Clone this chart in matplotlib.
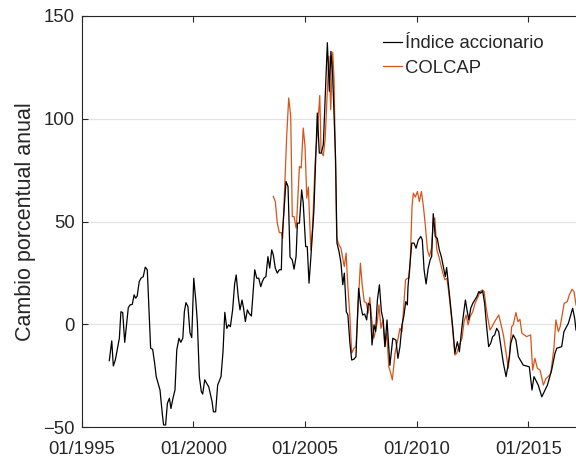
import matplotlib
matplotlib.use("Agg")
import matplotlib.pyplot as plt

# ---- data (decimal year, annual % change) ----
indice_t = [1996.24, 1996.35, 1996.42, 1996.51, 1996.69, 1996.76, 1996.84, 1996.93,
            1997.09, 1997.17, 1997.27, 1997.35, 1997.42, 1997.49, 1997.58, 1997.66,
            1997.76, 1997.85, 1997.94, 1998.09, 1998.18, 1998.27, 1998.34, 1998.51,
            1998.61, 1998.67, 1998.76, 1998.84, 1998.93, 1999.00, 1999.09, 1999.18,
            1999.26, 1999.36, 1999.44, 1999.53, 1999.60, 1999.67, 1999.76, 1999.85,
            1999.93, 2000.02, 2000.11, 2000.18, 2000.27, 2000.36, 2000.42, 2000.51,
            2000.60, 2000.69, 2000.84, 2000.90, 2001.00, 2001.09, 2001.24, 2001.33,
            2001.41, 2001.50, 2001.58, 2001.66, 2001.76, 2001.85, 2001.92, 2002.01,
            2002.09, 2002.18, 2002.25, 2002.33, 2002.42, 2002.49, 2002.60, 2002.75,
            2002.84, 2002.93, 2003.02, 2003.09, 2003.16, 2003.25, 2003.34, 2003.42,
            2003.51, 2003.58, 2003.67, 2003.76, 2003.85, 2003.94, 2003.98, 2004.15,
            2004.24, 2004.33, 2004.43, 2004.51, 2004.60, 2004.66, 2004.75, 2004.85,
            2004.92, 2005.03, 2005.10, 2005.18, 2005.26, 2005.40, 2005.55, 2005.64,
            2005.73, 2005.82, 2006.00, 2006.09, 2006.16, 2006.24, 2006.37, 2006.43,
            2006.52, 2006.61, 2006.69, 2006.76, 2006.85, 2006.92, 2007.01, 2007.09,
            2007.19, 2007.28, 2007.40, 2007.49, 2007.58, 2007.67, 2007.76, 2007.83,
            2007.92, 2008.00, 2008.09, 2008.16, 2008.24, 2008.33, 2008.42, 2008.50,
            2008.58, 2008.67, 2008.80, 2008.93, 2009.07, 2009.16, 2009.25, 2009.34,
            2009.42, 2009.51, 2009.58, 2009.61, 2009.70, 2009.78, 2009.88, 2009.97,
            2010.07, 2010.18, 2010.25, 2010.33, 2010.42, 2010.51, 2010.60, 2010.67,
            2010.74, 2010.83, 2010.92, 2011.01, 2011.10, 2011.19, 2011.28, 2011.34,
            2011.43, 2011.49, 2011.61, 2011.71, 2011.82, 2011.91, 2012.01, 2012.09,
            2012.18, 2012.25, 2012.33, 2012.42, 2012.51, 2012.60, 2012.69, 2012.78,
            2012.86, 2012.95, 2013.04, 2013.13, 2013.22, 2013.31, 2013.40, 2013.49,
            2013.58, 2013.67, 2013.76, 2013.88, 2014.00, 2014.15, 2014.21, 2014.32,
            2014.44, 2014.55, 2014.77, 2015.04, 2015.16, 2015.25, 2015.44, 2015.60,
            2015.85, 2016.04, 2016.19, 2016.27, 2016.49, 2016.59, 2016.79, 2016.98,
            2017.07, 2017.13]
indice_v = [-17.7, -8.1, -20.3, -17.4, -6.8, 6.1, 5.7, -8.8,
            8.1, 9.4, 9.7, 14.3, 12.7, 13.8, 20.8, 22.4,
            23.2, 27.8, 26.5, -11.7, -12.2, -19.0, -25.5, -32.0,
            -43.4, -49.0, -49.0, -38.5, -36.0, -41.0, -36.0, -32.0,
            -12.5, -6.8, -8.8, -6.8, 6.1, 10.5, 8.6, -4.1,
            -6.5, 22.4, 11.8, 1.3, -25.5, -32.8, -34.0, -27.0,
            -28.8, -30.4, -37.7, -42.6, -42.6, -29.6, -25.5, -13.3,
            5.8, -2.0, -0.3, -1.2, 7.0, 19.6, 24.0, 13.5,
            7.0, 11.8, 7.8, 1.3, 7.0, 5.4, 4.0, 26.5,
            22.4, 22.4, 18.3, 20.8, 22.4, 23.2, 32.9, 27.3,
            36.2, 33.8, 27.3, 24.9, 26.5, 26.5, 42.7, 69.5,
            67.0, 32.7, 31.3, 26.8, 33.0, 49.2, 49.2, 65.4,
            59.0, 37.8, 37.8, 20.0, 32.2, 55.7, 102.8, 83.3,
            83.3, 87.4, 137.0, 113.4, 132.8, 120.7, 80.0, 39.5,
            35.5, 29.7, 19.2, 24.9, 6.1, 4.5, -9.3, -17.4,
            -17.0, -15.8, 17.5, 9.4, 4.5, 5.0, 2.1, 10.2,
            9.4, -10.1, -0.3, -3.6, 11.8, 19.2, 6.1, 2.1,
            -10.9, 2.1, -20.0, -6.8, -7.7, -16.6, -10.9, -0.3,
            3.7, 11.0, 9.4, 18.3, 29.7, 39.5, 39.5, 37.0,
            41.0, 42.7, 41.1, 26.5, 19.6, 27.0, 31.3, 33.0,
            53.8, 42.7, 41.8, 36.2, 33.0, 28.1, 23.2, 27.6,
            18.3, 11.8, -1.2, -14.1, -8.5, -13.4, -2.8, 4.5,
            11.8, 7.0, 2.1, 7.8, 10.2, 11.8, 13.4, 15.9,
            15.1, 16.2, 10.2, -1.2, -10.9, -9.3, -6.0, -5.2,
            -2.0, -3.6, -10.1, -19.0, -25.5, -15.8, -9.3, -5.2,
            -7.7, -15.8, -19.9, -20.7, -32.0, -25.5, -29.6, -35.3,
            -29.6, -22.3, -14.1, -11.7, -10.9, -3.6, 0.5, 7.8,
            2.9, -2.8]

colcap_t = [2003.58, 2003.67, 2003.76, 2003.85, 2003.94, 2004.00, 2004.09, 2004.18,
            2004.27, 2004.36, 2004.43, 2004.51, 2004.60, 2004.63, 2004.75, 2004.83,
            2004.92, 2005.00, 2005.08, 2005.15, 2005.26, 2005.34, 2005.45, 2005.57,
            2005.66, 2005.72, 2005.82, 2005.90, 2006.07, 2006.15, 2006.24, 2006.30,
            2006.42, 2006.52, 2006.61, 2006.69, 2006.76, 2006.84, 2006.92, 2007.01,
            2007.09, 2007.19, 2007.28, 2007.40, 2007.48, 2007.56, 2007.65, 2007.74,
            2007.83, 2007.90, 2007.99, 2008.08, 2008.15, 2008.24, 2008.31, 2008.40,
            2008.49, 2008.57, 2008.66, 2008.75, 2008.84, 2008.91, 2009.03, 2009.15,
            2009.25, 2009.34, 2009.43, 2009.50, 2009.59, 2009.66, 2009.71, 2009.79,
            2009.85, 2009.94, 2010.03, 2010.12, 2010.21, 2010.30, 2010.39, 2010.48,
            2010.57, 2010.66, 2010.75, 2010.81, 2010.90, 2010.99, 2011.08, 2011.17,
            2011.26, 2011.35, 2011.43, 2011.52, 2011.61, 2011.71, 2011.79, 2011.94,
            2012.03, 2012.12, 2012.21, 2012.30, 2012.39, 2012.51, 2012.61, 2012.72,
            2012.84, 2012.93, 2013.02, 2013.10, 2013.21, 2013.28, 2013.37, 2013.49,
            2013.58, 2013.67, 2013.76, 2013.88, 2014.00, 2014.10, 2014.25, 2014.32,
            2014.44, 2014.53, 2014.62, 2014.71, 2014.92, 2015.10, 2015.19, 2015.29,
            2015.40, 2015.52, 2015.67, 2015.79, 2015.89, 2016.00, 2016.14, 2016.23,
            2016.34, 2016.42, 2016.60, 2016.74, 2016.83, 2016.95, 2017.04, 2017.13]
colcap_v = [62.2, 59.7, 49.2, 44.6, 44.6, 41.9, 67.0, 91.4,
            110.1, 101.2, 52.4, 52.4, 46.8, 50.8, 76.8, 76.0,
            95.5, 86.6, 61.4, 66.8, 36.0, 47.6, 78.5, 96.3,
            111.3, 84.1, 82.0, 89.8, 130.4, 104.4, 132.4, 119.0,
            42.0, 38.6, 37.0, 32.0, 28.1, 34.6, 18.0, 3.7,
            -14.1, -11.7, -10.9, 13.4, 29.7, 19.2, 11.0, 10.5,
            5.4, 13.1, 2.1, -6.8, -3.6, 1.3, 9.4, -2.0,
            2.1, -10.9, -4.4, -20.7, -23.9, -27.1, -14.1, -7.7,
            -2.0, -3.6, 10.2, 21.6, 22.4, 22.4, 30.5, 57.3,
            63.8, 61.9, 64.6, 59.7, 64.6, 57.3, 47.6, 36.2,
            33.0, 37.0, 50.8, 51.7, 36.2, 33.0, 28.9, 24.9,
            21.6, 22.4, 15.9, 7.0, -2.8, -15.0, -14.1, -9.3,
            -6.8, 1.3, 4.5, -0.3, 3.7, 6.1, 10.2, 12.7,
            15.9, 16.7, 15.9, 8.6, 1.3, -2.8, -1.2, 1.3,
            2.9, 4.5, 0.5, -5.2, -14.1, -21.4, -1.2, -0.3,
            5.7, 1.3, 2.4, -4.4, -6.0, -5.2, -22.3, -16.6,
            -21.4, -22.3, -29.6, -26.3, -25.5, -23.9, -11.7, 2.1,
            -3.6, -1.2, 10.2, 11.0, 14.3, 17.0, 15.9, 9.4]

xtick_pos = [1995, 2000, 2005, 2010, 2015]
xtick_lab = ["01/1995", "01/2000", "01/2005", "01/2010", "01/2015"]
ytick_pos = [-50, 0, 50, 100, 150]

plt.rcParams['font.family'] = ['Liberation Sans', 'DejaVu Sans']

fig = plt.figure(figsize=(5.76, 4.59), dpi=100)
ax = fig.add_axes([81.6 / 576, 32 / 459, 1 - 81.6 / 576, 411 / 459])

axcol = '#262626'
ax.plot(indice_t, indice_v, color='black', lw=0.9, label='Índice accionario', zorder=3)
ax.plot(colcap_t, colcap_v, color='#D95319', lw=0.9, label='COLCAP', zorder=2)

ax.set_xlim(1995, 2017.13)
ax.set_ylim(-50, 150)
ax.set_xticks(xtick_pos)
ax.set_xticklabels(xtick_lab)
ax.set_yticks(ytick_pos)
ax.yaxis.grid(True, color='#e3e3e3', lw=0.9)
ax.set_axisbelow(True)

for s in ['left', 'bottom', 'top']:
    ax.spines[s].set_color(axcol)
    ax.spines[s].set_linewidth(0.8)
ax.spines['right'].set_visible(False)

ax.tick_params(axis='both', direction='in', length=4, width=0.8, color=axcol,
               labelsize=13.3, labelcolor='#262626')
ax.tick_params(axis='x', top=True, pad=10)
ax.tick_params(axis='y', right=False, pad=5)

ax.set_ylabel('Cambio porcentual anual', fontsize=15.5, color='#262626', labelpad=5)

leg = ax.legend(loc='upper right', frameon=False, fontsize=13.3,
                handlelength=1.05, handletextpad=0.15, labelspacing=0.42,
                bbox_to_anchor=(0.961, 0.985), borderaxespad=0.3)
for t in leg.get_texts():
    t.set_color('#262626')

fig.savefig('out.png', dpi=100)
